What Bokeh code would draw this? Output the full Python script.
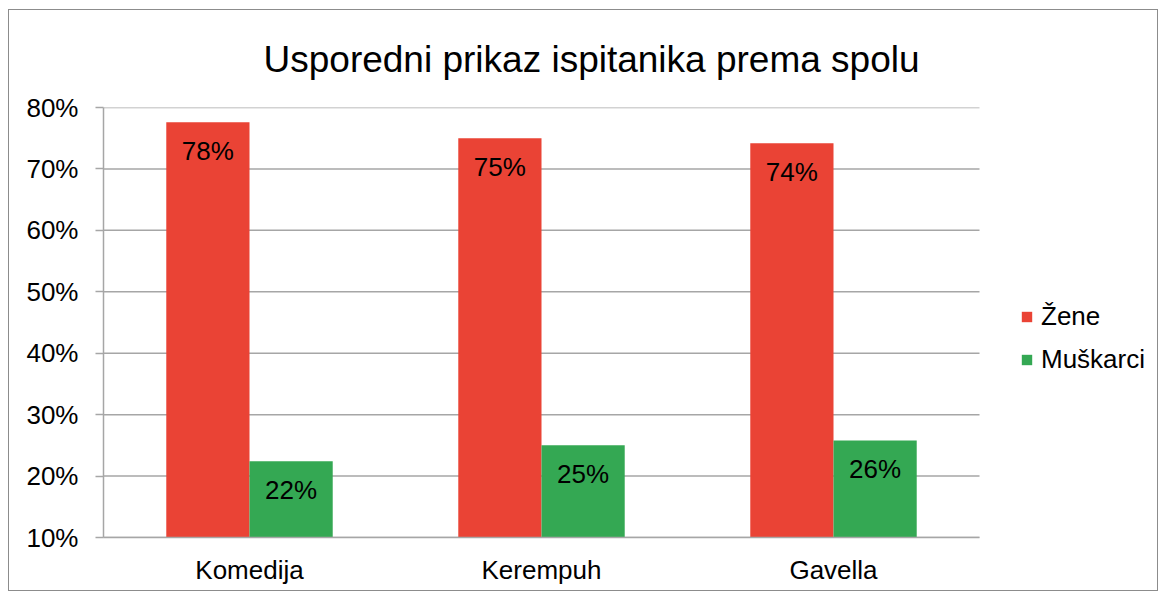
from bokeh.plotting import figure
from bokeh.models import ColumnDataSource, Legend, LegendItem, Range1d, FixedTicker
from bokeh.core.properties import value
from bokeh.embed import file_html
from bokeh.resources import INLINE

categories = ["Komedija", "Kerempuh", "Gavella"]
zene = [77.6, 75.0, 74.2]
muskarci = [22.4, 25.0, 25.8]
zene_labels = ["78%", "75%", "74%"]
muskarci_labels = ["22%", "25%", "26%"]
y_ticks = [10, 20, 30, 40, 50, 60, 70, 80]

FONT = "Liberation Sans"
RED = "#EA4335"
GREEN = "#34A853"
GRID = "#A6A6A6"

n = len(categories)
xs = list(range(n))
BW = 0.285
src = ColumnDataSource(dict(xz=[x - BW / 2 for x in xs], xm=[x + BW / 2 for x in xs],
                            zene=zene, musk=muskarci, zl=zene_labels, ml=muskarci_labels))

W, H = 1150, 582
MBL, MBR = 94, 8
frame_w = W - MBL - MBR
cat_px = 876 / n
x_end = -0.5 + frame_w / cat_px

p = figure(x_range=Range1d(-0.5, x_end), y_range=Range1d(10, 80),
           width=W, height=H, output_backend="svg", toolbar_location=None,
           min_border_left=MBL, min_border_top=97,
           min_border_right=MBR, min_border_bottom=55)
p.styles = {"border": "1px solid #8C8C8C", "margin-top": "9px", "margin-left": "8px"}

# gridlines limited to the category area
p.segment(x0=[-0.5] * len(y_ticks), x1=[n - 0.5] * len(y_ticks), y0=y_ticks, y1=y_ticks,
          line_color=GRID, line_width=1.5, level="underlay")

r1 = p.vbar(x="xz", top="zene", bottom=10, width=BW, source=src, color=RED, line_color=None)
r2 = p.vbar(x="xm", top="musk", bottom=10, width=BW, source=src, color=GREEN, line_color=None)

p.text(x="xz", y="zene", text="zl", source=src,
       text_align="center", text_baseline="middle", y_offset=29,
       text_font=value(FONT), text_font_size="26px", text_color="#000000")
p.text(x="xm", y="musk", text="ml", source=src,
       text_align="center", text_baseline="middle", y_offset=29,
       text_font=value(FONT), text_font_size="26px", text_color="#000000")

p.title.text = "Usporedni prikaz ispitanika prema spolu"
p.title.text_font = FONT
p.title.text_font_size = "37px"
p.title.text_font_style = "normal"
p.title.align = "left"
p.title.vertical_align = "top"
p.title.text_color = "#000000"
p.title.standoff = 52
p.title.offset = 160

p.outline_line_color = None
p.xgrid.grid_line_color = None
p.ygrid.grid_line_color = None

p.yaxis.ticker = FixedTicker(ticks=y_ticks)
p.yaxis.major_label_overrides = {t: f"{t}%" for t in y_ticks}
p.yaxis.axis_line_color = GRID
p.yaxis.axis_line_width = 1.5
p.yaxis.major_tick_line_color = GRID
p.yaxis.major_tick_line_width = 1.5
p.yaxis.major_tick_out = 8
p.yaxis.major_tick_in = 0
p.yaxis.minor_tick_line_color = None
p.yaxis.major_label_standoff = 17
p.yaxis.major_label_text_font = FONT
p.yaxis.major_label_text_font_size = "26px"
p.yaxis.major_label_text_color = "#000000"

p.xaxis.ticker = FixedTicker(ticks=xs)
p.xaxis.major_label_overrides = {x: c for x, c in zip(xs, categories)}
p.xaxis.bounds = (-0.5, n - 0.5)
p.xaxis.axis_line_color = GRID
p.xaxis.axis_line_width = 1.5
p.xaxis.major_tick_line_color = None
p.xaxis.minor_tick_line_color = None
p.xaxis.major_tick_out = 0
p.xaxis.major_tick_in = 0
p.xaxis.major_label_standoff = 17
p.xaxis.major_label_text_font = FONT
p.xaxis.major_label_text_font_size = "26px"
p.xaxis.major_label_text_color = "#000000"

legend = Legend(items=[LegendItem(label="Žene", renderers=[r1]),
                       LegendItem(label="Muškarci", renderers=[r2])],
                location=(917, 162), orientation="vertical",
                glyph_width=13, glyph_height=13, label_height=30, spacing=12,
                padding=0, margin=0, border_line_color=None, background_fill_alpha=0,
                label_text_font=FONT, label_text_font_size="26px", label_text_color="#000000",
                label_standoff=8)
p.add_layout(legend)

open("out.html", "w").write(file_html(p, INLINE))
